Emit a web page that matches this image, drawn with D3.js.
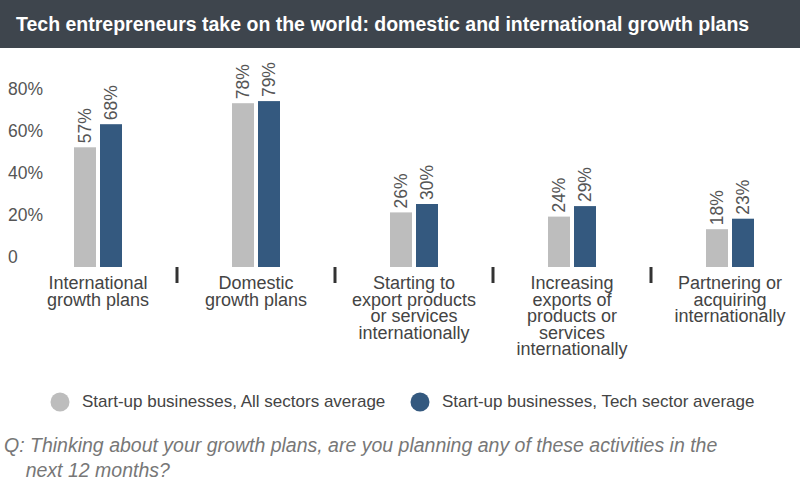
<!DOCTYPE html>
<html><head><meta charset="utf-8">
<script src="https://cdn.jsdelivr.net/npm/d3@7"></script>
<style>body{margin:0;background:#fff}text{font-family:"Liberation Sans",Arial,sans-serif}</style>
</head><body><svg id="c" width="800" height="500"></svg>
<script>
const categories = [
  ['International', 'growth plans'],
  ['Domestic', 'growth plans'],
  ['Starting to', 'export products', 'or services', 'internationally'],
  ['Increasing', 'exports of', 'products or', 'services', 'internationally'],
  ['Partnering or', 'acquiring', 'internationally'],
];
const allSectors = [57, 78, 26, 24, 18];
const techSector = [68, 79, 30, 29, 23];
const seriesNames = ['Start-up businesses, All sectors average', 'Start-up businesses, Tech sector average'];
const colors = ['#bdbdbd', '#34597f'];
const yTicks = [0, 20, 40, 60, 80];

const svg = d3.select('#c');
svg.append('rect').attr('x', 0).attr('y', 0).attr('width', 800).attr('height', 48).attr('fill', '#3e454d');
svg.append('text').attr('x', 16).attr('y', 31).attr('fill', '#fff')
  .style('font-size', '19.5px').style('font-weight', 'bold')
  .text('Tech entrepreneurs take on the world: domestic and international growth plans');

const x = d3.scaleBand().domain(d3.range(categories.length)).range([19, 809]);
const y = d3.scaleLinear().domain([0, 80]).range([267, 99]);
const barW = 22, gap = 4;

yTicks.forEach((t) => {
  svg.append('text').attr('x', 8).attr('y', y(t) - 4)
    .attr('fill', '#555').style('font-size', '17.5px')
    .text(t === 0 ? '0' : `${t}%`);
});

[allSectors, techSector].forEach((vals, s) => {
  vals.forEach((v, i) => {
    const cx = x(i) + x.bandwidth() / 2;
    const bx = s === 0 ? cx - gap / 2 - barW : cx + gap / 2;
    svg.append('rect').attr('x', bx).attr('y', y(v)).attr('width', barW)
      .attr('height', y(0) - y(v)).attr('fill', colors[s]);
    svg.append('text')
      .attr('transform', `translate(${bx + barW / 2 + 6},${y(v) - 4}) rotate(-90)`)
      .attr('fill', '#555').style('font-size', '17.5px')
      .text(`${v}%`);
  });
});

categories.forEach((lines, i) => {
  const cx = x(i) + x.bandwidth() / 2;
  if (i > 0) {
    svg.append('line').attr('x1', x(i)).attr('x2', x(i)).attr('y1', 267).attr('y2', 283)
      .attr('stroke', '#333').attr('stroke-width', 3);
  }
  lines.forEach((l, k) => {
    svg.append('text').attr('x', cx).attr('y', 289 + k * 16.5).attr('text-anchor', 'middle')
      .attr('fill', '#444').style('font-size', '18px').text(l);
  });
});

seriesNames.forEach((n, s) => {
  const lx = s === 0 ? 60 : 420;
  svg.append('circle').attr('cx', lx).attr('cy', 402).attr('r', 9.5).attr('fill', colors[s]);
  svg.append('text').attr('x', lx + 22).attr('y', 407).attr('fill', '#444')
    .style('font-size', '17px').text(n);
});

const note = ['Q: Thinking about your growth plans, are you planning any of these activities in the', '    next 12 months?'];
note.forEach((l, k) => {
  svg.append('text').attr('x', 4).attr('y', 452 + k * 25).attr('fill', '#777')
    .style('font-size', '19.5px').style('font-style', 'italic')
    .attr('xml:space', 'preserve').text(l);
});
</script></body></html>
